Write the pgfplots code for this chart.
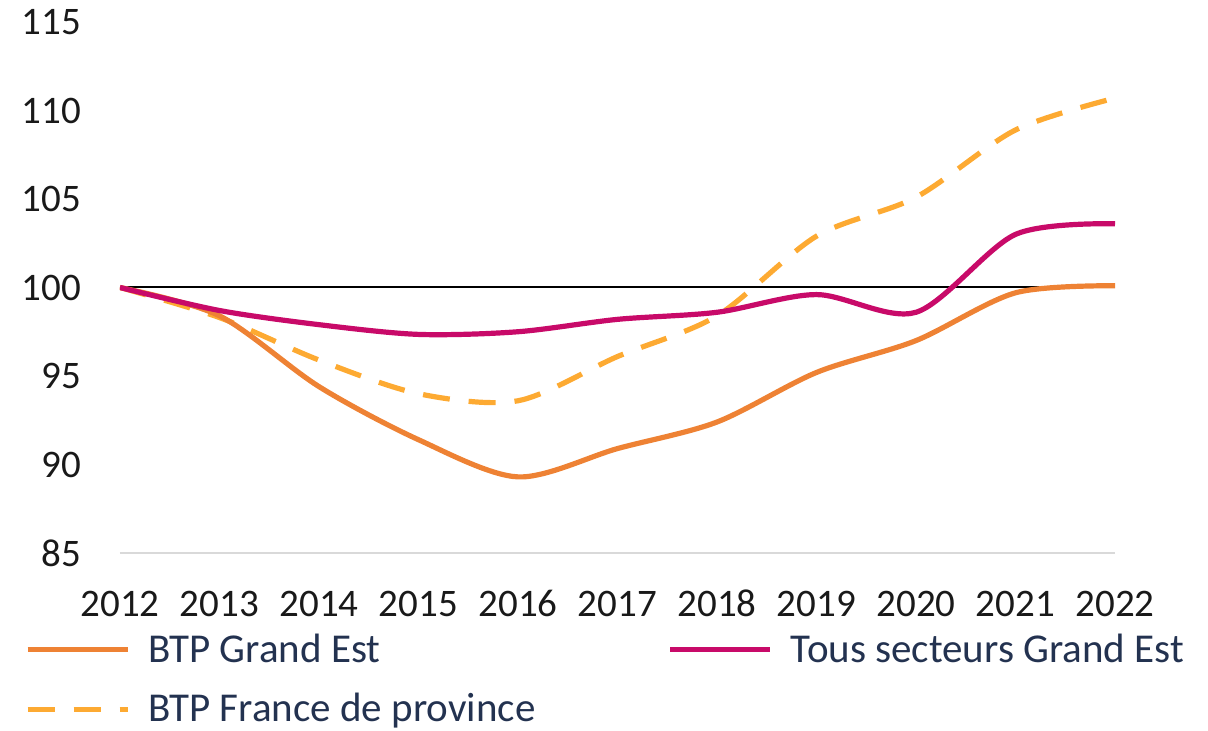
\documentclass[border=0pt]{standalone}
\usepackage{pgfplots}
\pgfplotsset{compat=1.18}
\usepackage{fontspec}
\setmainfont{Carlito}
\definecolor{cOrange}{RGB}{238,130,52}
\definecolor{cDash}{RGB}{253,170,50}
\definecolor{cMag}{RGB}{200,10,105}
\definecolor{cLeg}{RGB}{35,50,80}
\definecolor{cAxis}{RGB}{217,217,217}
\begin{document}
\begin{tikzpicture}
\begin{axis}[
  scale only axis,
  width=497.5pt, height=265.5pt,
  xmin=2012, xmax=2022, ymin=85, ymax=115,
  xtick={2012,2013,...,2022},
  ytick={85,90,...,115},
  axis x line*=bottom, axis y line*=left,
  x axis line style={draw=cAxis, line width=0.8pt, -},
  y axis line style={draw=none},
  major tick length=0pt,
  /pgf/number format/assume math mode=true,
  /pgf/number format/1000 sep={},
  tick label style={font=\fontsize{19.5}{22}\selectfont, text=black!90},
  xticklabel style={text height=14pt, text depth=0pt},
  xticklabel shift=14pt,
  yticklabel shift=16pt,
  legend columns=2,
  legend cell align=left,
  legend style={draw=none, fill=none, inner sep=0pt, outer sep=0pt,
    at={(0,0)}, anchor=north west, xshift=-47.5pt, yshift=-38.5pt,
    font=\fontsize{20.5}{22}\selectfont, text=cLeg,
    nodes={inner sep=2pt, text depth=0.15em},
    row sep=10pt,
    /tikz/every odd column/.append style={column sep=7pt},
    /tikz/every even column/.append style={column sep=64pt}},
  legend image code/.code={\draw[#1] (0pt,0pt) -- (50pt,0pt);},
]
\addplot[black, line width=1pt, forget plot] coordinates {(2012,100) (2022,100)};
\addplot[cDash, line width=2.6pt, smooth, dash pattern=on 13.5pt off 9.5pt, forget plot] coordinates {
(2012,100) (2013,98.3) (2014,95.9) (2015,94.0) (2016,93.6) (2017,96.1) (2018,98.4) (2019,102.9) (2020,105.1) (2021,108.9) (2022,110.7)};
\addplot[cOrange, line width=2.6pt, smooth] coordinates {
(2012,100) (2013,98.4) (2014,94.4) (2015,91.4) (2016,89.3) (2017,90.9) (2018,92.4) (2019,95.2) (2020,97.0) (2021,99.7) (2022,100.1)};
\addlegendentry{BTP Grand Est}
\addplot[cMag, line width=2.6pt, smooth] coordinates {
(2012,100) (2013,98.7) (2014,97.9) (2015,97.35) (2016,97.5) (2017,98.2) (2018,98.6) (2019,99.6) (2020,98.6) (2021,103.0) (2022,103.6)};
\addlegendentry{Tous secteurs Grand Est}
\addlegendimage{cDash, line width=2.6pt, dash pattern=on 13.5pt off 9.5pt}
\addlegendentry{BTP France de province}
\end{axis}
\pgfresetboundingbox
\path[use as bounding box] (-60pt,-89pt) rectangle (544pt,276.5pt);
\end{tikzpicture}
\end{document}
